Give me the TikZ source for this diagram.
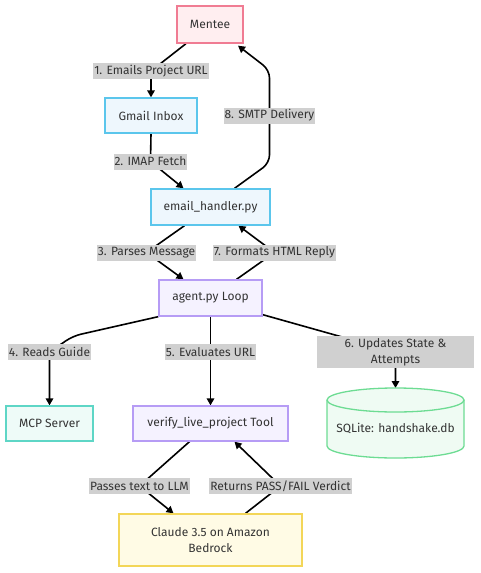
\documentclass[tikz,border=0pt]{standalone}
\usepackage{fontspec}
\setmainfont{Fira Sans}
\usetikzlibrary{arrows.meta,calc}
\pgfdeclarelayer{edges}
\pgfsetlayers{edges,main}
\definecolor{txt}{HTML}{333333}
\definecolor{pinkF}{HTML}{FFEEF0}\definecolor{pinkD}{HTML}{F07C93}
\definecolor{blueF}{HTML}{EEF7FD}\definecolor{blueD}{HTML}{5BC6EC}
\definecolor{purpF}{HTML}{F5F2FF}\definecolor{purpD}{HTML}{B69CF5}
\definecolor{tealF}{HTML}{EEFBF8}\definecolor{tealD}{HTML}{5ED6C6}
\definecolor{grnF}{HTML}{EFFBF3}\definecolor{grnD}{HTML}{6DDC93}
\definecolor{yelF}{HTML}{FFFBE5}\definecolor{yelD}{HTML}{F3D658}
\definecolor{lblF}{HTML}{D0D0D0}
\tikzset{
  txtfont/.style={font=\fontsize{12}{16}\selectfont},
  box/.style={draw, line width=1.3pt, text=txt, inner sep=0pt, txtfont},
  pinkbox/.style={box, fill=pinkF, draw=pinkD},
  bluebox/.style={box, fill=blueF, draw=blueD},
  purpbox/.style={box, fill=purpF, draw=purpD},
  tealbox/.style={box, fill=tealF, draw=tealD},
  yelbox/.style={box, fill=yelF, draw=yelD},
  lbl/.style={fill=lblF, text=txt, inner xsep=1pt, inner ysep=0pt, txtfont, minimum height=16pt},
  conn/.style={line width=1.6pt, rounded corners=8pt, -{Triangle[length=7pt,width=7.5pt]}}
}
\begin{document}
\begin{tikzpicture}[x=1pt,y=-1pt]
\useasboundingbox (0,0) rectangle (481,573);
% nodes
\node[pinkbox, minimum width=66pt, minimum height=37pt] (mentee) at (210,24.5) {Mentee};
\node[bluebox, minimum width=92pt, minimum height=35pt] (gmail) at (151,115.5) {Gmail Inbox};
\node[bluebox, minimum width=119pt, minimum height=36pt] (email) at (210.5,207) {email\_handler.py};
\node[purpbox, minimum width=103pt, minimum height=36pt] (agent) at (210.5,298) {agent.py Loop};
\node[tealbox, minimum width=87pt, minimum height=35pt] (mcp) at (49.5,423.5) {MCP Server};
\node[purpbox, minimum width=155pt, minimum height=35pt] (verify) at (210.5,423.5) {verify\_live\_project Tool};
\node[yelbox, minimum width=183pt, minimum height=52pt, align=center] (claude) at (210.5,540) {Claude 3.5 on Amazon\\Bedrock};
% cylinder
\fill[grnF] (327,400) -- (327,446) arc[start angle=180, end angle=0, x radius=68.5, y radius=12] -- (464,400) arc[start angle=0, end angle=-180, x radius=68.5, y radius=12] -- cycle;
\draw[grnD, line width=1.3pt] (327,400) -- (327,446) arc[start angle=180, end angle=0, x radius=68.5, y radius=12] -- (464,400);
\draw[grnD, line width=1.3pt] (395.5,400) ellipse [x radius=68.5, y radius=12];
\node[text=txt, txtfont] (sqlite) at (395.5,428) {SQLite: handshake.db};
\coordinate (sqltop) at (395.5,388);
% labels
\node[lbl] (l1) at (151,71) {1. Emails Project URL};
\node[lbl] (l2) at (150.5,161.5) {2. IMAP Fetch};
\node[lbl] (l8) at (269.5,115.5) {8. SMTP Delivery};
\node[lbl] (l3) at (146.5,252.5) {3. Parses Message};
\node[lbl] (l7) at (274.5,252.5) {7. Formats HTML Reply};
\node[lbl] (l4) at (49.5,352) {4. Reads Guide};
\node[lbl] (l5) at (210.5,352) {5. Evaluates URL};
\node[lbl, minimum width=157pt, minimum height=32pt, align=center] (l6) at (395.5,352) {6. Updates State \&\\Attempts};
\node[lbl] (l9) at (139.5,486) {Passes text to LLM};
\node[lbl] (l10) at (280.5,486) {Returns PASS/FAIL Verdict};
% edges
\begin{pgfonlayer}{edges}
\draw[conn] ($(mentee.south)+(-24,0)$) -- (l1.center) -- (gmail.north);
\draw[conn] (gmail.south) -- (l2.center) -- ($(email.north)+(-27,0)$);
\draw[conn] ($(email.north)+(24,0)$) -- (269.5,163) -- (l8.center) -- (269.5,70) -- ($(mentee.south)+(28,2)$);
\draw[conn] ($(email.south)+(-26,0)$) -- (l3.center) -- ($(agent.north)+(-27,0)$);
\draw[conn] ($(agent.north)+(26,0)$) -- (l7.center) -- ($(email.south)+(28,0)$);
\draw[conn] (agent.south west) -- (73,336) -- (l4.center) -- (mcp.north);
\draw[conn] (agent.south) -- (l5.center) -- (verify.north);
\draw[conn] ($(agent.south east)+(0,-2)$) -- (l6.center) -- (sqltop);
\draw[conn] ($(verify.south)+(-21,0)$) -- (l9.center) -- ($(claude.north)+(-37,0)$);
\draw[conn] ($(claude.north)+(35,0)$) -- (l10.center) -- ($(verify.south)+(24,0)$);
\end{pgfonlayer}
\end{tikzpicture}
\end{document}
